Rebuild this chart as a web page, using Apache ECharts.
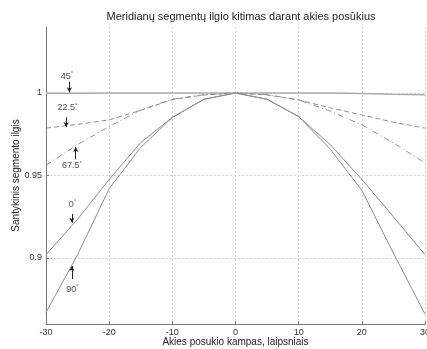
<!DOCTYPE html>
<html>
<head>
<meta charset="utf-8">
<script src="https://cdn.jsdelivr.net/npm/echarts@6/dist/echarts.min.js"></script>
<style>
  html, body { margin: 0; padding: 0; background: #fff; }
  #chart { width: 427px; height: 349px; }
</style>
</head>
<body>
<div id="chart"></div>
<script>
// posūkio kampai (laipsniais)
const angles = [-30, -25, -20, -15, -10, -5, 0, 5, 10, 15, 20, 25, 30]

// santykinis segmento ilgis kiekvienam meridianui
const m0 = [0.902, 0.9235, 0.9476, 0.970, 0.9852, 0.9962, 1, 0.9962, 0.9857, 0.9687, 0.9476, 0.925, 0.902]
const m22 = [0.9787, 0.981, 0.9837, 0.9895, 0.9960, 0.9988, 1, 0.9988, 0.9958, 0.991, 0.9867, 0.9823, 0.9787]
const m45 = [0.9998, 0.9999, 1, 1, 1, 1, 1, 1, 1, 1, 0.9997, 0.9993, 0.999]
const m67 = [0.9562, 0.9687, 0.9797, 0.9898, 0.9962, 0.999, 1, 0.999, 0.9958, 0.989, 0.9807, 0.9697, 0.9576]
const m90 = [0.867, 0.902, 0.942, 0.967, 0.9852, 0.9962, 1, 0.9962, 0.9857, 0.966, 0.941, 0.903, 0.866]

const yTicks = [0.9, 0.95, 1]

// anotacijos: tekstas, teksto vieta, rodyklės pradžia ir galas (duomenų koordinatės)
const notes = [
  { text: '45', at: [-26.7, 1.0102], from: [-26.3, 1.0068], to: [-26.3, 1.0004] },
  { text: '22.5', at: [-26.6, 0.9911], from: [-26.8, 0.9852], to: [-26.8, 0.9793] },
  { text: '67.5', at: [-25.9, 0.9558], from: [-25.3, 0.9598], to: [-25.3, 0.9672] },
  { text: '0', at: [-25.8, 0.9327], from: [-25.9, 0.9267], to: [-25.9, 0.9213] },
  { text: '90', at: [-25.8, 0.8812], from: [-25.9, 0.8873], to: [-25.9, 0.8952] },
]

const GREY = '#8c8c8c'
const chart = echarts.init(document.getElementById('chart'))

function curve(name, vals, type, color, width) {
  return {
    name: name,
    type: 'line',
    data: angles.map((a, i) => [a, vals[i]]),
    symbol: 'none',
    lineStyle: { color: color, width: width, type: type },
    z: 3,
  }
}

chart.setOption({
  animation: false,
  title: {
    text: 'Meridianų segmentų ilgio kitimas darant akies posūkius',
    left: 236,
    textAlign: 'center',
    top: 6,
    textStyle: { fontFamily: 'Liberation Sans', fontSize: 11, fontWeight: 'normal', color: '#222' },
  },
  grid: { left: 46, right: 2, top: 27, bottom: 25, outerBoundsMode: 'none', containLabel: false },
  xAxis: {
    type: 'value',
    min: -30,
    max: 30,
    interval: 10,
    name: 'Akies posukio kampas, laipsniais',
    nameLocation: 'middle',
    nameGap: 13,
    nameMoveOverlap: false,
    nameTextStyle: { fontFamily: 'Liberation Sans', fontSize: 10, color: '#222' },
    axisLine: { onZero: false, lineStyle: { color: '#777', width: 1 } },
    axisTick: { inside: true, length: 3, lineStyle: { color: '#777' } },
    axisLabel: { fontFamily: 'Liberation Sans', fontSize: 9, color: '#333', margin: 4 },
    splitLine: { show: true, lineStyle: { color: '#d4d4d4', type: [2, 2], width: 1 } },
  },
  yAxis: {
    type: 'value',
    min: 0.86,
    max: 1.04,
    name: 'Santykinis segmento ilgis',
    nameLocation: 'middle',
    nameGap: 25,
    nameMoveOverlap: false,
    nameTextStyle: { fontFamily: 'Liberation Sans', fontSize: 10, color: '#222' },
    axisLine: { show: true, onZero: false, lineStyle: { color: '#777', width: 1 } },
    axisTick: { show: true, inside: true, length: 3, customValues: yTicks, lineStyle: { color: '#777' } },
    axisLabel: { fontFamily: 'Liberation Sans', fontSize: 9, color: '#333', margin: 4, customValues: yTicks },
    splitLine: { show: true, lineStyle: { color: '#d4d4d4', type: [2, 2], width: 1 } },
  },
  series: [
    curve('0°', m0, 'solid', GREY, 1),
    curve('22.5°', m22, [5, 3], '#909090', 1),
    curve('45°', m45, 'solid', '#aaaaaa', 1.5),
    curve('67.5°', m67, [6, 3, 1, 3], '#909090', 1),
    curve('90°', m90, 'solid', GREY, 1),
    {
      name: 'notes',
      type: 'scatter',
      symbol: 'circle',
      symbolSize: 1,
      silent: true,
      itemStyle: { color: 'rgba(0,0,0,0)' },
      data: notes.map((n) => ({ value: n.at, name: n.text })),
      label: {
        show: true,
        position: 'inside',
        formatter: (p) => p.name + '{d|°}',
        fontFamily: 'Liberation Sans',
        fontSize: 9,
        color: '#222',
        rich: { d: { fontSize: 6, verticalAlign: 'top', padding: [0, 0, 5, 0], color: '#222' } },
      },
      markLine: {
        silent: true,
        symbol: ['none', 'arrow'],
        symbolSize: [4, 5],
        label: { show: false },
        lineStyle: { color: '#222', width: 1, type: 'solid' },
        data: notes.map((n) => [{ coord: n.from }, { coord: n.to }]),
      },
    },
  ],
})
</script>
</body>
</html>
